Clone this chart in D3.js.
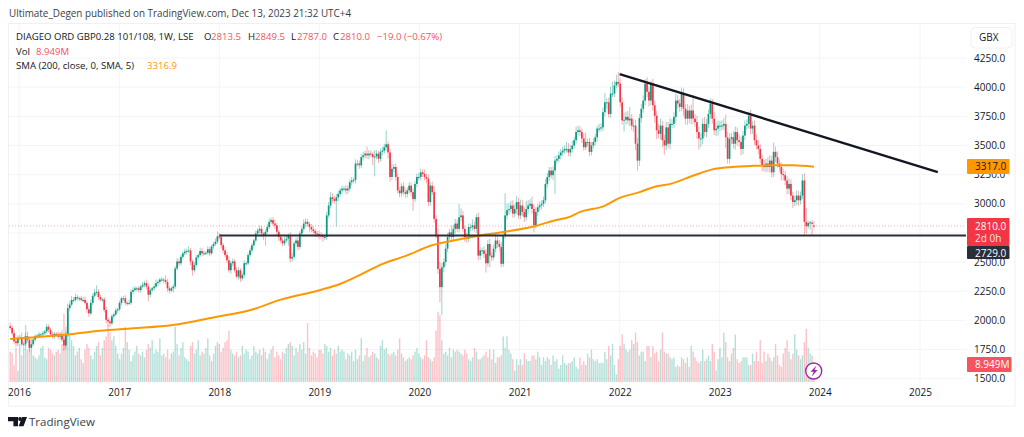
<!DOCTYPE html>
<html>
<head>
<meta charset="utf-8">
<script src="https://cdn.jsdelivr.net/npm/d3@7"></script>
<style>
  html, body { margin: 0; padding: 0; background: #fff; }
  svg { display: block; font-family: "Open Sans", sans-serif; }
</style>
</head>
<body>
<script>
// weekly closes, one list per calendar year
var close2015 = [1935,1890,1820,1805,1850];
var close2016 = [1850,1795,1800,1865,1835,1765,1795,1835,1865,1870,1880,1880,1890,1905,1945,1920,1880,1860,1885,1880,1860,1885,1835,1785,1880,2105,2135,2175,2175,2200,2190,2190,2175,2175,2150,2095,2060,2150,2210,2240,2245,2200,2180,2180,2090,2005,1990,1975,2035,2050,2085,2095];
var close2017 = [2150,2190,2190,2150,2150,2150,2245,2260,2275,2275,2260,2290,2305,2320,2290,2220,2260,2275,2290,2320,2330,2350,2350,2345,2330,2275,2255,2275,2290,2445,2505,2490,2545,2575,2590,2595,2600,2505,2430,2475,2540,2560,2595,2575,2575,2580,2610,2575,2635,2655,2675,2720];
var close2018 = [2715,2645,2600,2560,2515,2430,2490,2505,2430,2375,2430,2360,2390,2490,2490,2560,2600,2645,2685,2745,2770,2785,2745,2730,2760,2800,2845,2860,2830,2815,2760,2715,2685,2660,2685,2700,2730,2530,2545,2660,2685,2630,2745,2785,2830,2845,2825,2800,2780,2765,2745,2740,2730];
var close2019 = [2725,2715,2715,2900,2985,3055,3040,3025,3055,3085,3115,3130,3130,3115,3130,3185,3200,3205,3345,3345,3330,3400,3415,3430,3415,3430,3425,3400,3405,3430,3385,3445,3455,3485,3510,3440,3230,3300,3315,3230,3115,3090,3150,3100,3085,3115,3155,3100,3040,3170,3230,3230];
var close2020 = [3270,3255,3230,3215,3015,3155,3100,2870,2730,2440,2285,2455,2500,2615,2715,2755,2715,2785,2830,2785,2885,2900,2785,2715,2700,2800,2800,2815,2785,2885,2555,2600,2600,2570,2490,2655,2555,2540,2615,2685,2655,2630,2485,2730,2900,2945,2955,2985,2915,2955,3015,2900];
var close2021 = [2985,2930,2885,2955,2985,3000,2955,2815,2930,2970,2985,3000,3030,3170,3230,3285,3245,3285,3370,3385,3415,3440,3455,3470,3470,3440,3470,3500,3545,3615,3630,3615,3560,3485,3530,3530,3445,3500,3530,3570,3645,3645,3655,3785,3870,3870,3770,3945,3945,4015,4045,4030];
var close2022 = [3870,3715,3720,3745,3715,3730,3670,3670,3515,3370,3735,3815,3885,4030,3960,3885,4030,3845,3755,3630,3600,3670,3545,3500,3655,3515,3685,3685,3745,3885,3860,3830,3945,3815,3730,3800,3730,3800,3730,3700,3615,3560,3560,3685,3615,3685,3770,3860,3730,3630,3645,3670];
var close2023 = [3670,3670,3685,3570,3385,3555,3570,3515,3615,3545,3530,3470,3585,3670,3685,3755,3645,3670,3545,3500,3470,3385,3330,3315,3345,3315,3370,3270,3445,3400,3345,3315,3255,3245,3200,3130,3170,3070,3015,3030,3070,3030,3070,3200,2845,2808,2835,2840,2829,2810];

// upper wick length above the body, GBX
var up2015 = [30,20,25,15,20];
var up2016 = [25,45,20,30,40,25,45,20,15,10,20,15,20,15,25,20,15,25,15,15,25,15,30,20,25,40,30,35,25,30,20,15,20,25,30,20,25,30,20,30,55,25,20,15,20,25,20,25,20,15,20,15];
var up2017 = [20,15,20,25,15,30,20,25,20,15,20,15,25,20,30,25,20,15,25,30,20,15,20,15,40,25,20,15,20,20,30,25,20,15,25,20,35,20,15,25,20,15,30,25,20,15,25,20,15,20,25,45];
var up2018 = [30,25,20,30,25,35,20,25,20,30,25,20,20,25,15,20,25,20,15,25,20,30,25,15,20,25,30,20,25,35,20,15,25,20,30,25,15,25,30,20,25,30,20,25,35,30,25,20,25,30,20,25,30];
var up2019 = [25,20,20,30,30,45,35,25,30,25,20,25,20,30,25,25,30,20,35,30,25,25,30,25,60,30,25,20,55,30,25,30,35,30,120,25,30,40,25,30,25,30,25,35,30,25,30,25,30,25,30,35];
var up2020 = [30,25,40,30,35,30,35,50,30,55,60,35,30,40,35,30,60,35,40,35,115,60,40,30,35,30,30,50,35,30,40,30,25,35,40,35,45,30,35,70,40,35,40,40,190,55,50,40,45,40,50,35];
var up2021 = [50,45,40,70,45,40,60,35,40,30,35,30,30,45,35,30,30,35,40,30,35,30,35,30,60,50,35,40,30,45,40,35,30,40,80,30,35,30,35,30,25,40,35,40,80,35,40,60,100,40,60,85];
var up2022 = [45,40,60,45,50,100,40,50,50,50,35,40,45,40,55,45,25,40,40,45,55,60,40,45,50,45,50,40,40,60,45,40,50,45,40,55,40,50,130,40,55,45,45,50,60,45,40,45,40,55,50,45];
var up2023 = [40,45,50,80,45,50,40,55,45,40,50,45,40,45,40,35,50,40,45,50,45,40,35,45,40,55,45,40,80,45,50,35,40,45,40,35,50,40,35,40,45,40,35,55,60,120,20,15,20,36];

// lower wick length below the body, GBX
var dn2015 = [15,20,25,30,25];
var dn2016 = [20,15,25,20,25,35,40,15,15,10,15,20,15,15,20,25,20,15,20,15,15,25,20,45,30,20,25,15,20,15,20,25,15,20,15,30,30,15,20,15,20,25,15,20,20,30,40,30,15,20,15,20];
var dn2017 = [15,20,25,20,25,20,15,20,15,25,20,25,15,20,25,55,20,15,20,15,25,20,15,25,20,30,25,15,35,20,15,25,20,20,15,25,15,30,45,20,15,20,15,25,20,15,20,25,15,20,15,20];
var dn2018 = [20,30,25,20,25,20,30,25,20,15,25,30,20,25,20,15,20,25,20,15,20,25,30,40,90,20,15,20,25,30,25,35,20,25,20,15,60,30,25,20,25,30,20,15,25,30,20,40,25,20,30,25,35];
var dn2019 = [30,40,25,25,20,25,30,25,220,30,25,30,25,35,30,25,30,25,30,25,30,25,30,25,30,35,25,70,165,25,35,25,30,25,30,50,40,25,30,30,25,35,30,25,35,30,25,30,100,25,30,25];
var dn2020 = [30,25,30,40,35,30,25,30,30,40,130,240,40,35,30,25,30,35,40,25,30,35,25,40,35,30,35,30,25,35,40,35,30,35,80,30,100,30,25,30,35,40,30,25,30,35,40,30,35,30,40,30];
var dn2021 = [30,35,40,30,35,25,40,60,30,35,30,35,30,25,30,35,30,40,200,25,30,35,30,25,30,30,35,30,25,30,25,35,40,30,25,40,35,30,25,30,35,30,25,30,35,60,30,35,30,30,25,30];
var dn2022 = [40,35,95,40,35,50,40,55,60,85,45,40,35,40,45,50,40,45,60,75,40,50,60,80,40,35,45,40,35,50,45,40,35,60,50,55,40,50,45,40,60,95,75,50,40,45,35,40,45,40,50,60];
var dn2023 = [45,40,35,95,40,40,45,40,50,45,40,55,45,40,35,40,50,45,40,35,45,40,50,40,45,40,50,45,40,45,35,40,55,45,40,50,45,40,50,35,40,45,35,30,115,60,20,55,100,23];

// volume, millions
var vol2015 = [16,15,9,18,6];
var vol2016 = [20,14,18,30,17,22,16,14,13,12,14,18,19,13,12,18,17,15,14,16,17,15,20,36,29,36,25,22,19,14,16,18,12,10,17,20,18,14,12,16,19,21,14,18,22,24,30,26,22,24,19,15];
var vol2017 = [12,15,18,29,21,17,11,14,16,19,15,14,16,13,17,20,18,22,15,17,16,23,14,15,13,17,12,15,16,29,20,14,18,21,13,12,11,19,21,15,17,22,14,16,15,18,23,14,11,15,19,21];
var vol2018 = [20,16,18,21,22,27,17,15,14,16,13,14,19,15,17,16,12,14,19,16,15,17,14,18,16,12,15,17,19,13,16,14,12,16,15,18,20,21,19,14,18,16,20,17,21,15,31,18,14,16,15,13,17];
var vol2019 = [17,15,20,19,16,18,14,17,15,19,16,17,16,12,15,14,16,11,17,12,14,23,11,14,18,13,14,16,15,13,12,19,22,17,18,15,14,15,16,14,17,23,15,13,11,12,13,12,14,16,18,15];
var vol2020 = [13,12,14,22,13,12,11,13,27,37,35,22,15,16,14,18,13,17,16,17,16,15,14,17,15,12,11,13,18,16,12,12,13,14,16,13,17,12,17,10,13,13,14,24,18,24,17,15,12,6,12,9];
var vol2021 = [12,9,15,12,11,11,14,14,12,16,13,9,13,11,13,12,9,14,11,12,7,9,14,10,9,10,10,11,13,8,7,13,9,11,9,15,13,17,12,11,12,10,10,10,16,12,19,14,20,9,4,12];
var vol2022 = [19,25,20,17,16,17,22,20,26,21,14,16,16,11,19,19,13,19,15,16,11,17,26,16,15,15,13,12,13,8,9,8,13,12,10,13,8,19,16,13,11,10,11,17,11,12,14,11,20,16,6,12];
var vol2023 = [18,13,26,21,13,11,15,18,25,12,10,11,13,13,13,9,9,15,11,16,11,22,10,16,11,15,13,11,13,20,14,9,8,15,18,22,16,12,15,25,17,14,12,14,21,28,18,15,14,8.949];

// 200 week SMA, read at a run of dates along the orange line
var smaDates = ["2015-11-30","2016-06-25","2016-10-22","2017-02-20","2017-07-15","2017-12-10","2018-05-05","2018-08-10","2019-01-05","2019-03-15","2019-05-30","2019-08-20","2019-11-15","2020-02-10","2020-05-05","2020-08-10","2020-11-15","2021-02-20","2021-05-05","2021-07-05","2021-08-10","2021-11-05","2022-01-01","2022-03-15","2022-05-01","2022-07-12","2022-09-25","2022-12-05","2023-02-15","2023-05-01","2023-07-12","2023-09-25","2023-12-11"];
var smaValues = [1840,1878,1912,1932,1960,2025,2096,2176,2261,2310,2390,2485,2555,2640,2685,2728,2762,2805,2855,2890,2930,2980,3050,3100,3140,3175,3240,3295,3315,3325,3330,3330,3317];

// the two lines the author drew by hand
var trendDates = ["2022-01-01","2025-03-07"];
var trendValues = [4112,3272];
var supportDates = ["2018-01-01","2026-01-01"];
var supportValue = 2729;

var priceTicks = [1500,1750,2000,2250,2500,2750,3000,3250,3500,3750,4000,4250];
// 2750 sits fully behind the last price label, so it gets a gridline but no text
var priceLabels = [1500,1750,2000,2250,2500,3000,3250,3500,3750,4000,4250];
var yearTicks = [2016,2017,2018,2019,2020,2021,2022,2023,2024,2025];

var closes = d3.merge([close2015,close2016,close2017,close2018,close2019,close2020,close2021,close2022,close2023]);
var ups = d3.merge([up2015,up2016,up2017,up2018,up2019,up2020,up2021,up2022,up2023]);
var dns = d3.merge([dn2015,dn2016,dn2017,dn2018,dn2019,dn2020,dn2021,dn2022,dn2023]);
var vols = d3.merge([vol2015,vol2016,vol2017,vol2018,vol2019,vol2020,vol2021,vol2022,vol2023]);

var parseDay = d3.utcParse("%Y-%m-%d");
var weeks = d3.utcMonday.range(new Date(Date.UTC(2015,10,30)), new Date(Date.UTC(2023,11,12)));

var bars = weeks.map(function(d, i) {
  var open = i == 0 ? 1950 : closes[i-1];
  if (i == weeks.length-1) open = 2813.5;
  return {
    date: d,
    open: open,
    close: closes[i],
    high: Math.max(open, closes[i]) + ups[i],
    low: Math.min(open, closes[i]) - dns[i],
    vol: vols[i]
  };
});

var green = "#089981", red = "#f23645", ink = "#131722", orange = "#ff9800";

var svg = d3.select("body").append("svg")
    .attr("width", 1024)
    .attr("height", 437);

var x = d3.scaleUtc()
    .domain([new Date(Date.UTC(2016,0,1)), new Date(Date.UTC(2025,0,1))])
    .range([19, 920]);
var y = d3.scaleLinear().domain([1500, 4250]).range([378.7, 58]);
var yVol = d3.scaleLinear().domain([0, 40]).range([382, 306]);

var yearDate = function(yr) { return new Date(Date.UTC(yr,0,1)); };

// outer frame
svg.append("rect")
    .attr("x", 8.5).attr("y", 23.5)
    .attr("width", 1006.5).attr("height", 382.5)
    .attr("fill", "none")
    .attr("stroke", "#eef0f3");

svg.append("clipPath").attr("id", "pane").append("rect")
    .attr("x", 9).attr("y", 24).attr("width", 957).attr("height", 359);

var pane = svg.append("g").attr("clip-path", "url(#pane)");

// grid
pane.selectAll(".hgrid").data(priceTicks).enter().append("line")
    .attr("x1", 9).attr("x2", 966)
    .attr("y1", function(d) { return y(d); })
    .attr("y2", function(d) { return y(d); })
    .attr("stroke", "#f2f4f8");
pane.selectAll(".vgrid").data(yearTicks).enter().append("line")
    .attr("x1", function(d) { return x(yearDate(d)); })
    .attr("x2", function(d) { return x(yearDate(d)); })
    .attr("y1", 24).attr("y2", 383)
    .attr("stroke", "#f2f4f8");

// volume
pane.selectAll(".vol").data(bars).enter().append("rect")
    .attr("x", function(d) { return x(d.date) - 0.7; })
    .attr("width", 1.4)
    .attr("y", function(d) { return yVol(d.vol); })
    .attr("height", function(d) { return yVol(0) - yVol(d.vol); })
    .attr("fill", function(d) { return d.close >= d.open ? green : red; })
    .attr("opacity", 0.3);

// last price dotted line
pane.append("line")
    .attr("x1", 9).attr("x2", 966)
    .attr("y1", y(2810)).attr("y2", y(2810))
    .attr("stroke", red)
    .attr("stroke-opacity", 0.4)
    .attr("stroke-dasharray", "1 2");

// candles
pane.selectAll(".wick").data(bars).enter().append("line")
    .attr("x1", function(d) { return x(d.date); })
    .attr("x2", function(d) { return x(d.date); })
    .attr("y1", function(d) { return y(d.high); })
    .attr("y2", function(d) { return y(d.low); })
    .attr("stroke", function(d) { return d.close >= d.open ? green : red; })
    .attr("stroke-width", 0.7)
    .attr("opacity", 0.6);
pane.selectAll(".body").data(bars).enter().append("rect")
    .attr("x", function(d) { return x(d.date) - 0.85; })
    .attr("width", 1.7)
    .attr("y", function(d) { return y(Math.max(d.open, d.close)); })
    .attr("height", function(d) { return Math.max(1, Math.abs(y(d.open) - y(d.close))); })
    .attr("fill", function(d) { return d.close >= d.open ? green : red; });

// SMA
var smaLine = d3.line()
    .x(function(d, i) { return x(parseDay(smaDates[i])); })
    .y(function(d) { return y(d); })
    .curve(d3.curveMonotoneX);
pane.append("path")
    .attr("d", smaLine(smaValues))
    .attr("fill", "none")
    .attr("stroke", orange)
    .attr("stroke-width", 2);

// hand drawn lines
pane.append("line")
    .attr("x1", x(parseDay(supportDates[0]))).attr("x2", x(parseDay(supportDates[1])))
    .attr("y1", y(supportValue)).attr("y2", y(supportValue))
    .attr("stroke", "#2a2e39")
    .attr("stroke-width", 2);
svg.append("line")
    .attr("x1", x(parseDay(trendDates[0]))).attr("x2", x(parseDay(trendDates[1])))
    .attr("y1", y(trendValues[0])).attr("y2", y(trendValues[1]))
    .attr("stroke", "#131722")
    .attr("stroke-width", 2.4);

// axes
var yAxis = d3.axisRight(y)
    .tickValues(priceLabels)
    .tickFormat(d3.format(".1f"))
    .tickSize(0)
    .tickPadding(8);
var gy = svg.append("g")
    .attr("transform", "translate(966,0)")
    .call(yAxis);
var xAxis = d3.axisBottom(x)
    .tickValues(yearTicks.map(yearDate))
    .tickFormat(d3.utcFormat("%Y"))
    .tickSize(0)
    .tickPadding(5);
var gx = svg.append("g")
    .attr("transform", "translate(0,384)")
    .call(xAxis);
gy.select(".domain").remove();
gx.select(".domain").remove();
svg.selectAll(".tick text")
    .attr("fill", ink)
    .style("font-family", '"Open Sans", sans-serif')
    .style("font-size", "10px");

// price labels on the axis
function priceBox(top, h, w, fill) {
  svg.append("rect")
      .attr("x", 967).attr("y", top)
      .attr("width", w).attr("height", h)
      .attr("rx", 1)
      .attr("fill", fill);
}
function label(px, py, txt, fill, size, weight) {
  return svg.append("text")
      .attr("x", px).attr("y", py)
      .attr("fill", fill)
      .attr("font-size", size || 10)
      .attr("font-weight", weight || null)
      .text(txt);
}
priceBox(159, 15, 42.5, orange);
label(975, 170, "3317.0", ink);
priceBox(218, 28, 42.5, red);
label(975, 230, "2810.0", "#fff");
label(975, 242, "2d 0h", "#fde2e4");
priceBox(246, 13, 42.5, "#2a2e39");
label(975, 256.5, "2729.0", "#fff");
priceBox(357, 15, 44.5, "#f7525f");
label(975, 368, "8.949M", "#fff");

// currency button
svg.append("rect")
    .attr("x", 971).attr("y", 27.5)
    .attr("width", 41).attr("height", 20.5)
    .attr("rx", 4)
    .attr("fill", "#fff")
    .attr("stroke", "#eef0f3");
label(979, 41, "GBX", ink, 10);

// legend
var redText = "#f7525f";
label(9, 17, "Ultimate_Degen published on TradingView.com, Dec 13, 2023 21:32 UTC+4", "#3a3e49", 9.9);
label(16, 40, "DIAGEO ORD GBP0.28 101/108, 1W, LSE", ink, 9.6);
label(204, 40, "O", ink, 9.6);
label(211, 40, "2813.5", redText, 9.6);
label(248, 40, "H", ink, 9.6);
label(255, 40, "2849.5", redText, 9.6);
label(291, 40, "L", ink, 9.6);
label(297, 40, "2787.0", redText, 9.6);
label(333, 40, "C", ink, 9.6);
label(340, 40, "2810.0", redText, 9.6);
label(377, 40, "\u221219.0 (\u22120.67%)", redText, 9.6);
label(16, 54.5, "Vol", ink, 9.6);
label(36, 54.5, "8.949M", redText, 9.6);
label(16, 69, "SMA (200, close, 0, SMA, 5)", ink, 9.6);
label(147, 69, "3316.9", orange, 9.6);

// lightning badge
svg.append("circle")
    .attr("cx", 813.7).attr("cy", 371).attr("r", 8)
    .attr("fill", "#fff").attr("stroke", "#9c27b0").attr("stroke-width", 1.4);
svg.append("path")
    .attr("d", "M816.5 365.5l-6 6.2h3.2l-2 4.8 6-6.4h-3.2z")
    .attr("fill", "#9c27b0");

// logo
svg.append("path")
    .attr("d", "M8 417h10v9.2h-4.6v-5H8zM18.7 426.2l3.3-9.2h5l-3.5 9.2z")
    .attr("fill", ink);
svg.append("circle").attr("cx", 20).attr("cy", 419).attr("r", 1.9).attr("fill", ink);
label(29, 425.5, "TradingView", "#3a3e49", 11.5);
</script>
</body>
</html>
